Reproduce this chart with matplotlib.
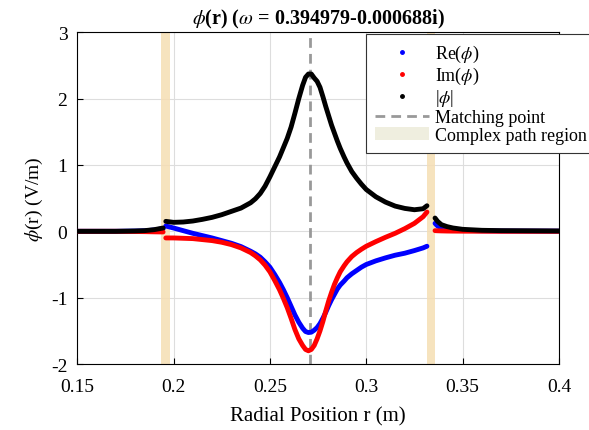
import matplotlib
matplotlib.use("Agg")
import matplotlib.pyplot as plt
from matplotlib.lines import Line2D
from matplotlib.patches import Patch

plt.rcParams['font.family'] = ['Liberation Serif', 'DejaVu Serif']
plt.rcParams['mathtext.fontset'] = 'stix'
plt.rcParams['axes.unicode_minus'] = False

# values
omega_label = '0.394979-0.000688i'
r_match = 0.271
bands = [(0.1936, 0.1982), (0.3315, 0.3357)]

# left of first band
r_left = [0.15, 0.17, 0.18, 0.185, 0.19, 0.1946]
abs_left = [0.0, 0.0, 0.005, 0.01, 0.025, 0.05]
re_left = [0.0, 0.0, 0.004, 0.008, 0.02, 0.04]
im_left = [0.0, 0.0, -0.003, -0.005, -0.008, -0.01]

# between the bands
r_mid = [0.196, 0.2, 0.205, 0.21, 0.215, 0.22, 0.225, 0.23, 0.235, 0.24,
         0.2425, 0.245, 0.2475, 0.25, 0.2525, 0.255, 0.257, 0.259, 0.261, 0.263,
         0.265, 0.267, 0.2685, 0.27, 0.2715, 0.273, 0.2745, 0.276, 0.2775, 0.279,
         0.2805, 0.282, 0.2835, 0.285, 0.2865, 0.2885, 0.29, 0.2925, 0.295, 0.2975,
         0.3, 0.305, 0.31, 0.315, 0.32, 0.325, 0.3295, 0.3315]
abs_mid = [0.15, 0.135, 0.14, 0.155, 0.18, 0.21, 0.25, 0.30, 0.35, 0.43,
           0.49, 0.57, 0.68, 0.82, 0.97, 1.12, 1.26, 1.40, 1.57, 1.78,
           2.00, 2.20, 2.32, 2.37, 2.37, 2.31, 2.26, 2.17, 2.03, 1.88,
           1.74, 1.60, 1.48, 1.36, 1.25, 1.12, 1.03, 0.90, 0.80, 0.71,
           0.63, 0.52, 0.44, 0.38, 0.345, 0.325, 0.34, 0.385]
re_mid = [0.08, 0.05, 0.01, -0.03, -0.065, -0.10, -0.14, -0.18, -0.23, -0.30,
          -0.34, -0.39, -0.46, -0.54, -0.65, -0.77, -0.88, -1.00, -1.13, -1.26,
          -1.37, -1.46, -1.51, -1.525, -1.52, -1.49, -1.45, -1.39, -1.31, -1.22,
          -1.12, -1.03, -0.95, -0.87, -0.81, -0.75, -0.70, -0.64, -0.59, -0.54,
          -0.50, -0.445, -0.40, -0.36, -0.33, -0.29, -0.25, -0.225]
im_mid = [-0.10, -0.10, -0.105, -0.11, -0.125, -0.14, -0.165, -0.20, -0.25, -0.32,
          -0.37, -0.43, -0.51, -0.61, -0.74, -0.88, -1.01, -1.15, -1.31, -1.48,
          -1.62, -1.72, -1.78, -1.80, -1.78, -1.72, -1.62, -1.50, -1.36, -1.20,
          -1.05, -0.92, -0.80, -0.70, -0.61, -0.52, -0.46, -0.38, -0.32, -0.27,
          -0.225, -0.155, -0.09, -0.03, 0.04, 0.12, 0.22, 0.29]

# right of second band
r_right = [0.3357, 0.337, 0.339, 0.342, 0.345, 0.35, 0.36, 0.37, 0.4]
abs_right = [0.2, 0.15, 0.1, 0.07, 0.05, 0.03, 0.015, 0.01, 0.005]
re_right = [0.12, 0.08, 0.05, 0.035, 0.025, 0.015, 0.008, 0.005, 0.003]
im_right = [0.01, 0.008, 0.006, 0.004, 0.003, 0.002, 0.001, 0.0, 0.0]

fig = plt.figure(figsize=(5.89, 4.31), dpi=100)
ax = fig.add_axes([0.131, 0.153, 0.818, 0.770])

for a, b in bands:
    ax.axvspan(a, b, color='#f5deb3', alpha=0.85, lw=0, zorder=1)

ax.axvline(r_match, color='#999999', lw=2, ls=(0, (3.5, 2.2)), zorder=2)

for rr, re, im, ab in [(r_left, re_left, im_left, abs_left),
                       (r_mid, re_mid, im_mid, abs_mid),
                       (r_right, re_right, im_right, abs_right)]:
    ax.plot(rr, re, color='blue', lw=3.5, zorder=3, solid_capstyle='round', solid_joinstyle='round')
    ax.plot(rr, im, color='red', lw=3.5, zorder=3, solid_capstyle='round', solid_joinstyle='round')
    ax.plot(rr, ab, color='black', lw=3.5, zorder=4, solid_capstyle='round', solid_joinstyle='round')

ax.set_xlim(0.15, 0.4)
ax.set_ylim(-2, 3)
ax.set_xticks([0.15, 0.2, 0.25, 0.3, 0.35, 0.4])
ax.set_xticklabels(['0.15', '0.2', '0.25', '0.3', '0.35', '0.4'])
ax.set_yticks([-2, -1, 0, 1, 2, 3])
ax.grid(True, color='#dddddd', lw=0.8)
ax.set_axisbelow(True)
ax.tick_params(direction='in', length=4, labelsize=14, width=0.8)
ax.tick_params(axis='x', pad=10)
ax.tick_params(axis='y', pad=7)
for s in ax.spines.values():
    s.set_linewidth(0.8)

ax.set_xlabel('Radial Position r (m)', fontsize=15, labelpad=8)
ax.set_ylabel(r'$\phi$(r) (V/m)', fontsize=14)
ax.set_title(r'$\phi$(r) ($\omega$ = ' + omega_label + ')', fontsize=14.5,
             fontweight='bold', pad=6)

handles = [
    Line2D([], [], color='blue', marker='.', ls='none', markersize=5),
    Line2D([], [], color='red', marker='.', ls='none', markersize=5),
    Line2D([], [], color='black', marker='.', ls='none', markersize=5),
    Line2D([], [], color='#999999', lw=2, ls=(0, (3.5, 2.2))),
    Patch(facecolor='#efeedf', edgecolor='none'),
]
labels = [r'Re($\phi$)', r'Im($\phi$)', r'|$\phi$|', 'Matching point',
          'Complex path region']
leg = ax.legend(handles, labels, loc='upper left', bbox_to_anchor=(0.6, 0.995),
                fontsize=13, frameon=True, fancybox=False, framealpha=1,
                edgecolor='#333333', labelspacing=0.05, handlelength=3.0,
                handletextpad=0.3, borderpad=0.5, borderaxespad=0.0)
leg.get_frame().set_linewidth(0.8)

fig.savefig('out.png', dpi=100)
